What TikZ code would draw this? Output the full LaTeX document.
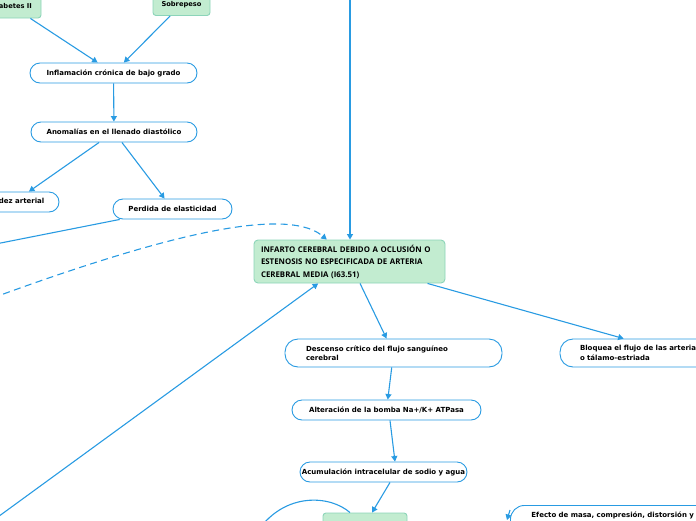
\documentclass[tikz,border=0pt]{standalone}
\usepackage{fontspec}
\usetikzlibrary{arrows.meta}
\newfontfamily\pillfnt{DejaVu Sans}
\newfontfamily\infnt{Open Sans}
\definecolor{lineblue}{RGB}{41,155,226}
\definecolor{gfill}{RGB}{194,236,208}
\definecolor{gdraw}{RGB}{140,212,185}
\tikzset{
 pill/.style={draw=lineblue, line width=0.9pt, fill=white, rounded corners=10pt, minimum height=20pt, inner sep=0pt, font=\pillfnt\bfseries\fontsize{7}{9.5}\selectfont},
 gbox/.style={draw=gdraw, line width=0.9pt, fill=gfill, rounded corners=3pt, inner sep=0pt, font=\pillfnt\bfseries\fontsize{6.7}{9}\selectfont},
 conn/.style={draw=lineblue, line width=1.1pt, -{Triangle[length=5.5pt,width=6pt]}},
}
\begin{document}
\begin{tikzpicture}[x=1pt,y=-1pt]
\useasboundingbox (0,0) rectangle (696,520);
\clip (0,0) rectangle (696,520);

% nodes
\node[gbox, minimum width=59pt, minimum height=24pt] (diab) at (11.5,6) {Diabetes II};
\node[gbox, minimum width=57pt, minimum height=22pt] (sobre) at (181.5,4.5) {Sobrepeso};
\node[pill, minimum width=167pt] (infl) at (113.5,73) {Inflamación crónica de bajo grado};
\node[pill, minimum width=166pt] (anom) at (114,132) {Anomalías en el llenado diastólico};
\node[pill, minimum width=90pt] (rig) at (14,202) {Rigidez arterial};
\node[pill, minimum width=119pt] (perd) at (172.5,209) {Perdida de elasticidad};
\node[gbox, rounded corners=4pt, text width=177pt, inner xsep=7pt, minimum height=43pt, align=left,
  font=\infnt\bfseries\fontsize{7.85}{12.5}\selectfont] (main) at (349.5,261.5)
  {INFARTO CEREBRAL DEBIDO A OCLUSIÓN O\\ESTENOSIS NO ESPECIFICADA DE ARTERIA\\CEREBRAL MEDIA (I63.51)};
\node[pill, rounded corners=13pt, text width=175pt, inner xsep=21pt, minimum height=28pt, align=left] (desc) at (393.5,353)
  {Descenso crítico del flujo sanguíneo\\cerebral};
\node[pill, rounded corners=13pt, text width=190pt, inner xsep=20pt, minimum height=28pt, align=left] (bloq) at (675,353)
  {Bloquea el flujo de las arterias\\o tálamo-estriada};
\node[pill, minimum width=189pt] (alt) at (386.5,410) {Alteración de la bomba Na+/K+ ATPasa};
\node[pill, minimum width=167pt] (acu) at (383.5,472) {Acumulación intracelular de sodio y agua};
\node[gbox, minimum width=84pt, minimum height=30pt] (gb) at (365,528) {};
\node[pill, rounded corners=14pt, anchor=north west, text width=175pt, inner xsep=21pt, inner ysep=6pt,
  text height=6pt, text depth=26pt, align=left] (efe) at (510,505) {Efecto de masa, compresión, distorsión y};

% connectors
\coordinate (topin) at (350,-10);
\draw[conn] (topin) -- (topin |- main.north);
\draw[conn] (diab) -- (infl);
\draw[conn] (sobre) -- (infl);
\draw[conn] (infl) -- (anom);
\draw[conn] (anom) -- (rig);
\draw[conn] (anom) -- (perd);
\coordinate (leftA) at (-60,255);
\draw[conn] (perd) -- (leftA);
\coordinate (leftB) at (-40,310);
\draw[conn, dash pattern=on 7pt off 4.5pt] (leftB) .. controls (120,250) and (280,200) .. (main.136);
\coordinate (leftC) at (-20,530);
\draw[conn] (leftC) -- (main.215);
\draw[conn] (main) -- (desc);
\draw[conn] (main) -- (bloq);
\draw[conn] (desc) -- (alt);
\draw[conn] ([xshift=3.5pt]alt.south) -- ([xshift=11.5pt]acu.north);
\draw[conn] ([xshift=6.5pt]acu.south) -- ([xshift=7pt]gb.north);
\coordinate (loopend) at (255,535);
\draw[conn] ([xshift=-15pt]gb.north) .. controls (330,495) and (285,492) .. (loopend);
\coordinate (efa) at (510,510);
\coordinate (efb) at (507,520);
\draw[conn] (efa) -- (efb);
\end{tikzpicture}
\end{document}
